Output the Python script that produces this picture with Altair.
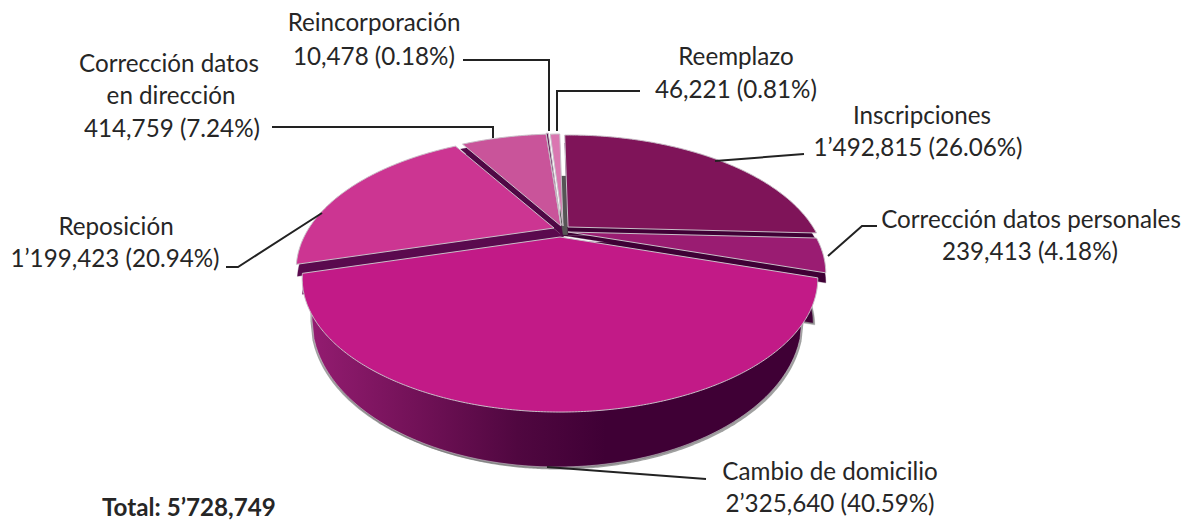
import numpy as np
import pandas as pd
import altair as alt

categories = ["Inscripciones", "Corrección datos personales", "Cambio de domicilio", "Reposición",
              "Corrección datos en dirección", "Reincorporación", "Reemplazo"]
values = [1492815, 239413, 2325640, 1199423, 414759, 10478, 46221]
top_colors = ["#7F1459", "#9A1C72", "#C21A87", "#CC3592", "#C9549A", "#5A1050", "#DA77B1"]
wall_colors = ["#3F0035", "#3F0035", "#8A1A66", "#5A0A4E", "#4F0845", "#4F0845", "#4F0845"]
label_lines = ["Reincorporación", "10,478 (0.18%)", "Corrección datos", "en dirección", "414,759 (7.24%)",
               "Reemplazo", "46,221 (0.81%)", "Inscripciones", "1’492,815 (26.06%)",
               "Corrección datos personales", "239,413 (4.18%)", "Reposición", "1’199,423 (20.94%)",
               "Cambio de domicilio", "2’325,640 (40.59%)"]
total_label = "Total: 5’728,749"

# layout (reference pixels)
label_x = [374, 374, 169, 171, 172, 736, 736, 922, 918, 1031, 1030, 116, 115, 830, 830]
label_y = [24, 58, 65, 97, 130, 58, 91, 117, 149, 221, 253, 228, 260, 473, 505]
apex = {0: (568, 227), 1: (568, 232), 2: (560, 237), 3: (554, 228), 4: (561, 226), 5: (561, 225), 6: (563, 226)}
wall_shift = {0: [(0, 8)], 1: [(-13, 50), (0, 10), (-14, 9), (-8, 3)], 3: [(6, 30), (1, 12), (10, 9)],
              4: [(2, 10), (-2, 5)], 5: [], 6: []}
leaders = [
    [(463, 60), (549, 60), (549, 131)],
    [(640, 91), (557, 91), (557, 131)],
    [(272, 127), (493, 127), (493, 138)],
    [(804, 154), (715, 161)],
    [(877, 226), (862, 226), (828, 256)],
    [(226, 267), (238, 267), (322, 213)],
    [(706, 479), (547, 467)],
]
P, B, A = 0.311, 120.6, 245.0
START = -1.0


def project(theta, ax, ay):
    t = np.radians(theta)
    u, v = np.sin(t), np.cos(t)
    w = 1 + P * v
    return ax + A * u / w, ay - B * v / w


total = sum(values)
starts, a = [], START
for val in values:
    starts.append(a)
    a += val / total * 360


def wedge(i, dx=0.0, dy=0.0):
    ax, ay = apex[i]
    s, e = starts[i], starts[i] + values[i] / total * 360
    th = np.linspace(s, e, max(3, int(e - s) * 2 + 2))
    xs, ys = project(th, ax, ay)
    xs = np.r_[ax, xs] + dx
    ys = np.r_[ay, ys] + dy
    return pd.DataFrame({"x": xs, "y": ys, "i": range(len(xs))})


X = alt.X("x:Q", axis=None, scale=alt.Scale(domain=[8, 1183]))
Y = alt.Y("y:Q", axis=None, scale=alt.Scale(domain=[522, 8]))


def poly(df, fill, stroke=None, sw=1.0, op=1.0):
    kw = dict(fill=fill, interpolate="linear-closed", opacity=op)
    kw["stroke"] = stroke if stroke else fill
    kw["strokeWidth"] = sw if stroke else 0.3
    return alt.Chart(df).mark_line(**kw).encode(x=X, y=Y, order="i:Q")


# cylinder wall of the big slice
wcx, wa, wb, wc = 557.0, 245.0, 147.0, 320.0
wx = np.arange(wcx - wa, wcx + wa + 1, 2.0)
low = wc + wb * np.sqrt(np.clip(1 - ((wx - wcx) / wa) ** 2, 0, 1))
wall_df = pd.DataFrame({"x": wx, "y": low, "y2": np.full_like(wx, 295.0)})
shadow_df = wall_df.assign(x=wall_df.x + 1.5, y=wall_df.y + 2.5)
shadow2_df = wall_df.assign(x=wall_df.x - 1.5, y=wall_df.y + 1.5)
grad = alt.Gradient(gradient="linear", x1=0, x2=1, y1=0, y2=0, stops=[
    alt.GradientStop(color="#931C70", offset=0),
    alt.GradientStop(color="#741259", offset=0.2),
    alt.GradientStop(color="#500740", offset=0.42),
    alt.GradientStop(color="#3F0035", offset=0.6),
    alt.GradientStop(color="#3F0035", offset=1),
])
shadow = alt.Chart(shadow_df).mark_area(color="#777777", opacity=0.7).encode(x=X, y=Y, y2="y2:Q")
shadow2 = alt.Chart(shadow2_df).mark_area(color="#777777", opacity=0.7).encode(x=X, y=Y, y2="y2:Q")
wall = alt.Chart(wall_df).mark_area(color=grad, stroke="#C8C0C8", strokeWidth=0.6).encode(x=X, y=Y, y2="y2:Q")

gray_df = pd.DataFrame({"x": [560, 568, 568, 560], "y": [176, 176, 236, 236], "i": [0, 1, 2, 3]})
edge = "#C9BFC8"
layers = [shadow, shadow2, wall, poly(gray_df, "#555555")]
for i in [4, 5, 6, 0, 1, 3]:
    for dx, dy in wall_shift[i]:
        if i == 1 and dy > 20:
            layers.append(poly(wedge(i, dx + 2, dy + 2), "#777777", op=0.8))
        layers.append(poly(wedge(i, dx, dy), wall_colors[i]))
    layers.append(poly(wedge(i), top_colors[i], edge))
layers.append(poly(wedge(2), top_colors[2], edge))

for n, pts in enumerate(leaders):
    df = pd.DataFrame({"x": [p[0] for p in pts], "y": [p[1] for p in pts], "i": range(len(pts))})
    layers.append(alt.Chart(df).mark_line(color="#222222", strokeWidth=2).encode(x=X, y=Y, order="i:Q"))

labels = pd.DataFrame({"x": label_x, "y": label_y, "t": label_lines})
layers.append(alt.Chart(labels).mark_text(font="Lato", fontSize=24.2, color="#262626", align="center",
                                          baseline="middle").encode(x=X, y=Y, text="t:N"))
tot = pd.DataFrame({"x": [102], "y": [509], "t": [total_label]})
layers.append(alt.Chart(tot).mark_text(font="Lato", fontSize=24.2, fontWeight="bold", color="#262626", align="left",
                                       baseline="middle").encode(x=X, y=Y, text="t:N"))

chart = alt.layer(*layers).properties(width=1175, height=514, padding=0, autosize="none",
                                      background="white").configure_view(stroke=None)
chart.save("out.html", embed_options={"renderer": "svg", "actions": False})
